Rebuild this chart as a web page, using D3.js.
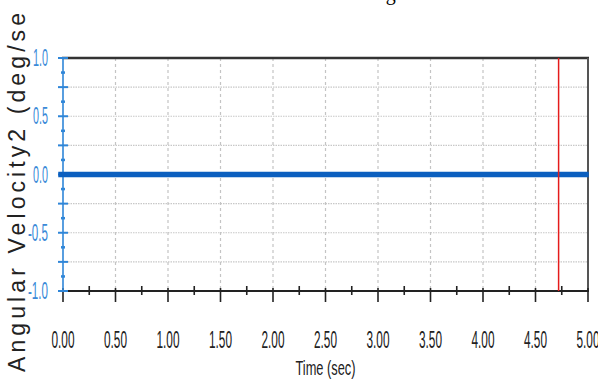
<!DOCTYPE html>
<html>
<head>
<meta charset="utf-8">
<script src="https://cdn.jsdelivr.net/npm/d3@7"></script>
<style>
  body { margin: 0; background: #fff; }
  svg { display: block; }
</style>
</head>
<body>
<script>
"use strict";

// data
let timeValues = [0, 5];
let velocityValues = [0, 0];
let markerTime = 4.72;
let xTickLabels = ["0.00", "0.50", "1.00", "1.50", "2.00", "2.50", "3.00", "3.50", "4.00", "4.50", "5.00"];
let yTickLabels = ["1.0", "0.5", "0.0", "-0.5", "-1.0"];

let width = 598,
	height = 382,
	margin = {left: 63, right: 10, top: 58, bottom: 91};

let svg = d3.select("body").append("svg")
	.attr("width", width)
	.attr("height", height);

// cut off line of the document text above the chart
svg.append("text")
	.attr("x", 8)
	.attr("y", 0)
	.style("font-family", "'Liberation Serif', 'DejaVu Serif', serif")
	.style("font-size", "20px")
	.style("fill", "#000")
	.text("Then set the controller to achieve the desired signal.");

let xScale = d3.scaleLinear()
	.domain([0, 5])
	.range([margin.left, width - margin.right]);

let yScale = d3.scaleLinear()
	.domain([-1, 1])
	.range([height - margin.bottom, margin.top]);

let x0 = xScale(0), x1 = xScale(5), yTop = yScale(1), yBot = yScale(-1);

// grid
svg.append("g")
	.selectAll("line")
	.data(d3.range(-0.75, 1, 0.25).filter(v => Math.abs(v) > 1e-9))
	.enter().append("line")
		.attr("x1", x0).attr("x2", x1)
		.attr("y1", d => yScale(d)).attr("y2", d => yScale(d))
		.style("stroke", "#c8c8c8")
		.style("stroke-width", 1.2)
		.style("stroke-dasharray", "1.5,1");

svg.append("g")
	.selectAll("line")
	.data(d3.range(0.5, 5, 0.5))
	.enter().append("line")
		.attr("x1", d => xScale(d)).attr("x2", d => xScale(d))
		.attr("y1", yTop).attr("y2", yBot)
		.style("stroke", "#c4c4c4")
		.style("stroke-width", 1.2)
		.style("stroke-dasharray", "3,3");

// frame
svg.append("line")
	.attr("x1", x0 - 1).attr("x2", x1 + 1)
	.attr("y1", yTop).attr("y2", yTop)
	.style("stroke", "#333").style("stroke-width", 2.5);

svg.append("line")
	.attr("x1", x1).attr("x2", x1)
	.attr("y1", yTop).attr("y2", yBot)
	.style("stroke", "#555").style("stroke-width", 2);

// x axis
let xAxis = svg.append("g")
	.attr("transform", "translate(0," + yBot + ")");

xAxis.append("line")
	.attr("x1", x0 - 3).attr("x2", x1 + 1)
	.style("stroke", "#222").style("stroke-width", 2);

xAxis.selectAll(".minor")
	.data(d3.range(0.25, 5, 0.5))
	.enter().append("line")
		.attr("x1", d => xScale(d)).attr("x2", d => xScale(d))
		.attr("y1", -5).attr("y2", 4)
		.style("stroke", "#222").style("stroke-width", 1.6);

xAxis.selectAll(".major")
	.data(d3.range(0, 5.01, 0.5))
	.enter().append("line")
		.attr("x1", d => xScale(d)).attr("x2", d => xScale(d))
		.attr("y1", -3).attr("y2", 11)
		.style("stroke", "#222").style("stroke-width", 1.6);

xAxis.selectAll("text")
	.data(xTickLabels)
	.enter().append("text")
		.attr("x", d => xScale(+d))
		.attr("y", 57)
		.attr("text-anchor", "middle")
		.attr("textLength", 23)
		.attr("lengthAdjust", "spacingAndGlyphs")
		.style("font-family", "'Liberation Sans', Arial, sans-serif")
		.style("font-size", "24px")
		.style("fill", "#222")
		.text(d => d);

svg.append("text")
	.attr("x", (x0 + x1) / 2)
	.attr("y", 375)
	.attr("text-anchor", "middle")
	.attr("textLength", 60)
	.attr("lengthAdjust", "spacingAndGlyphs")
	.style("font-family", "'Liberation Sans', Arial, sans-serif")
	.style("font-size", "20px")
	.style("fill", "#222")
	.text("Time (sec)");

// y axis (blue)
let yAxis = svg.append("g")
	.attr("transform", "translate(" + x0 + ",0)");

yAxis.append("line")
	.attr("y1", yTop).attr("y2", yBot)
	.style("stroke", "#2f86d8").style("stroke-width", 1.6);

yAxis.selectAll(".minor")
	.data(d3.range(-0.875, 1, 0.25))
	.enter().append("line")
		.attr("x1", -2).attr("x2", 2)
		.attr("y1", d => yScale(d)).attr("y2", d => yScale(d))
		.style("stroke", "#2f86d8").style("stroke-width", 2.5);

yAxis.selectAll(".major")
	.data(d3.range(-1, 1.01, 0.25))
	.enter().append("line")
		.attr("x1", -5).attr("x2", 5)
		.attr("y1", d => yScale(d)).attr("y2", d => yScale(d))
		.style("stroke", "#2f86d8").style("stroke-width", 2);

yAxis.selectAll("text")
	.data(yTickLabels)
	.enter().append("text")
		.attr("x", -15)
		.attr("y", d => yScale(+d) + 8)
		.attr("text-anchor", "end")
		.attr("textLength", d => d.length * 5)
		.attr("lengthAdjust", "spacingAndGlyphs")
		.style("font-family", "'Liberation Sans', Arial, sans-serif")
		.style("font-size", "23px")
		.style("fill", "#3a8ad8")
		.text(d => d);

svg.append("text")
	.attr("transform", "translate(25,372) rotate(-90)")
	.attr("textLength", 359)
	.attr("lengthAdjust", "spacing")
	.style("font-family", "'Liberation Sans', Arial, sans-serif")
	.style("font-size", "23px")
	.style("fill", "#222")
	.text("Angular Velocity2  (deg/se");

// series
let line = d3.line()
	.x((d, i) => xScale(timeValues[i]))
	.y(d => yScale(d));

svg.append("path")
	.datum(velocityValues)
	.attr("d", line)
	.attr("transform", "translate(-2,0)")
	.style("fill", "none")
	.style("stroke", "#0b5fbf")
	.style("stroke-linecap", "square")
	.style("stroke-width", 5.5);

svg.append("line")
	.attr("x1", xScale(markerTime)).attr("x2", xScale(markerTime))
	.attr("y1", yTop).attr("y2", yBot)
	.style("stroke", "#e51b1b").style("stroke-width", 1.5);
</script>
</body>
</html>
